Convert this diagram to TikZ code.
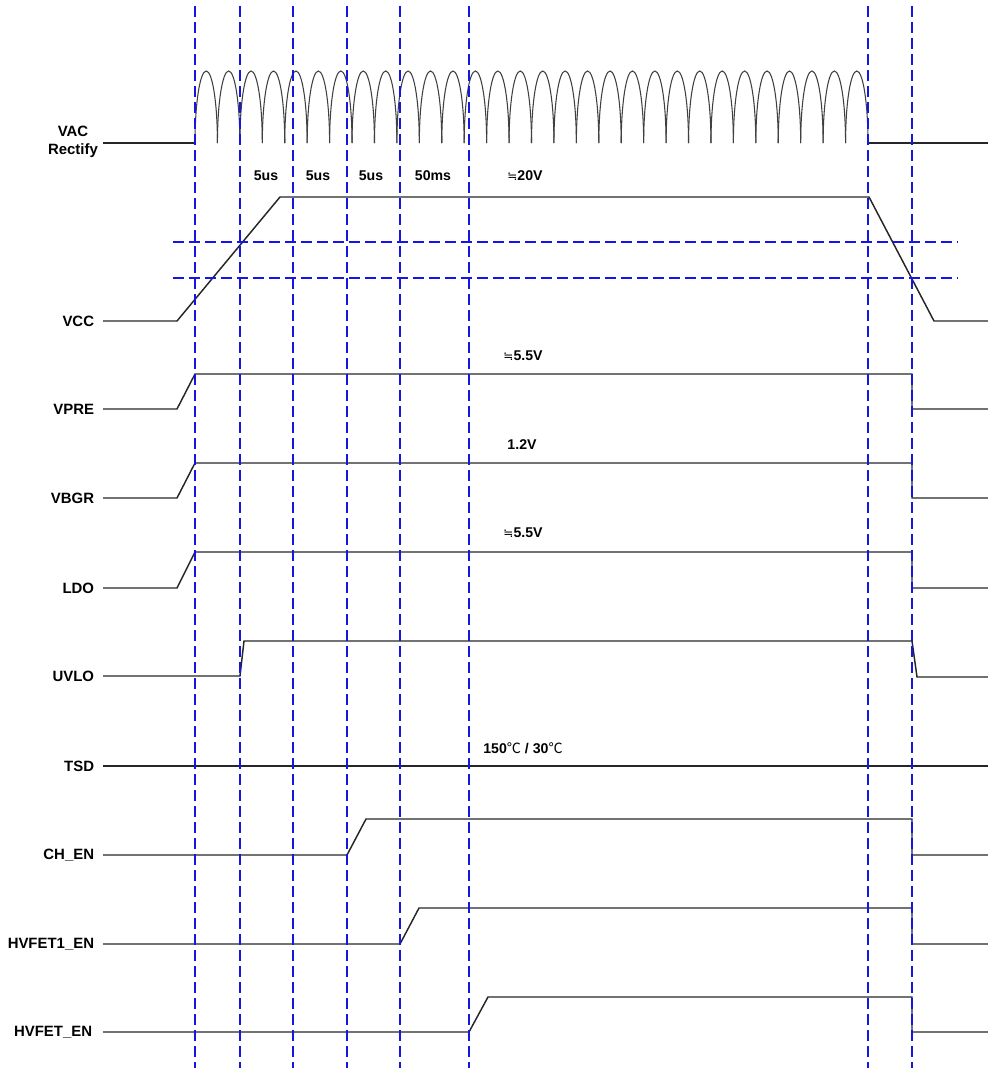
\documentclass[tikz,border=0pt]{standalone}
\usepackage{fontspec}
\setmainfont{Liberation Sans}
\newfontfamily\cjk{Noto Sans CJK SC}
\newfontfamily\symfont{DejaVu Sans}
\tikzset{every picture/.style={line width=0.75pt}}
\tikzset{
  sig/.style={draw=black!85, line width=1.1pt, line join=miter},
  arch/.style={draw=black!75, line width=0.8pt},
  guide/.style={draw={rgb,255:red,20;green,20;blue,235}, line width=1.2pt, dash pattern=on 8.5pt off 3.5pt},
  siglabel/.style={anchor=east, font=\fontsize{11.2}{13}\selectfont\bfseries},
  vallabel/.style={font=\fontsize{10.6}{12}\selectfont\bfseries}
}
\newcommand{\approxsym}{{\symfont\mdseries\fontsize{9}{10}\selectfont ≒}}
\begin{document}
\begin{tikzpicture}[x=0.75pt,y=0.75pt,yscale=-1,xscale=1]
	\useasboundingbox (0,0) rectangle (988,1068);

	% VAC Rectify
	\draw [sig] (103,143) -- (195,143) ;
	\foreach \i in {0,...,29}{
		\pgfmathsetmacro{\xa}{195+22.433*\i}
		\draw [arch] (\xa,143) arc [start angle=180, end angle=360, x radius=11.217, y radius=72] ;
	}
	\draw [sig] (868,143) -- (988,143) ;
	% VCC
	\draw [sig] (103,321) -- (177,321) -- (280,197) -- (869,197) -- (934,321) -- (988,321) ;
	% VPRE
	\draw [sig] (103,409) -- (177,409) -- (195,374) -- (912,374) -- (912,409) -- (988,409) ;
	% VBGR
	\draw [sig] (103,498) -- (177,498) -- (195,463) -- (912,463) -- (912,498) -- (988,498) ;
	% LDO
	\draw [sig] (103,588) -- (177,588) -- (195,552) -- (912,552) -- (912,588) -- (988,588) ;
	% UVLO
	\draw [sig] (103,676) -- (240,676) -- (244,641) -- (912,641) -- (917,677) -- (988,677) ;
	% TSD
	\draw [sig] (103,766) -- (988,766) ;
	% CH_EN
	\draw [sig] (103,855) -- (347,855) -- (366,819) -- (912,819) -- (912,855) -- (988,855) ;
	% HVFET1_EN
	\draw [sig] (103,944) -- (400,944) -- (419,908) -- (912,908) -- (912,944) -- (988,944) ;
	% HVFET_EN
	\draw [sig] (103,1032) -- (469,1032) -- (488,997) -- (912,997) -- (912,1032) -- (988,1032) ;

	% Dashed guides
	\foreach \gx in {195,240,293,347,400,469,868,912}{
		\draw [guide] (\gx,6) -- (\gx,1068) ;
	}
	\draw [guide] (173,242) -- (958,242) ;
	\draw [guide] (173,278) -- (958,278) ;

	% Text Node
	\node (lvac) [align=center, font=\fontsize{11.2}{13.2}\selectfont\bfseries] at (73,142) {VAC\\Rectify};
	\node (lvcc) [siglabel] at (99,321) {VCC};
	\node (lvpre) [siglabel] at (99,409) {VPRE};
	\node (lvbgr) [siglabel] at (99,498) {VBGR};
	\node (lldo) [siglabel] at (99,588) {LDO};
	\node (luvlo) [siglabel] at (99,676) {UVLO};
	\node (ltsd) [siglabel] at (99,766) {TSD};
	\node (lchen) [siglabel] at (99,855) {CH\_EN};
	\node (lhv1) [siglabel] at (99,944) {HVFET1\_EN};
	\node (lhv) [siglabel] at (97,1032) {HVFET\_EN};

	% Text Node
	\node (ta) [vallabel] at (266,176) {5us};
	\node (tb) [vallabel] at (318,176) {5us};
	\node (tc) [vallabel] at (371,176) {5us};
	\node (td) [vallabel] at (433,176) {50ms};
	\node (vcc) [vallabel] at (525,176) {\approxsym20V};
	\node (vpre) [vallabel] at (523,356) {\approxsym5.5V};
	\node (vbgr) [vallabel] at (522,445) {1.2V};
	\node (vldo) [vallabel] at (523,533) {\approxsym5.5V};
	\node (vtsd) [vallabel] at (523,748) {150{\cjk\mdseries ℃} / 30{\cjk\mdseries ℃}};

\end{tikzpicture}
\end{document}
